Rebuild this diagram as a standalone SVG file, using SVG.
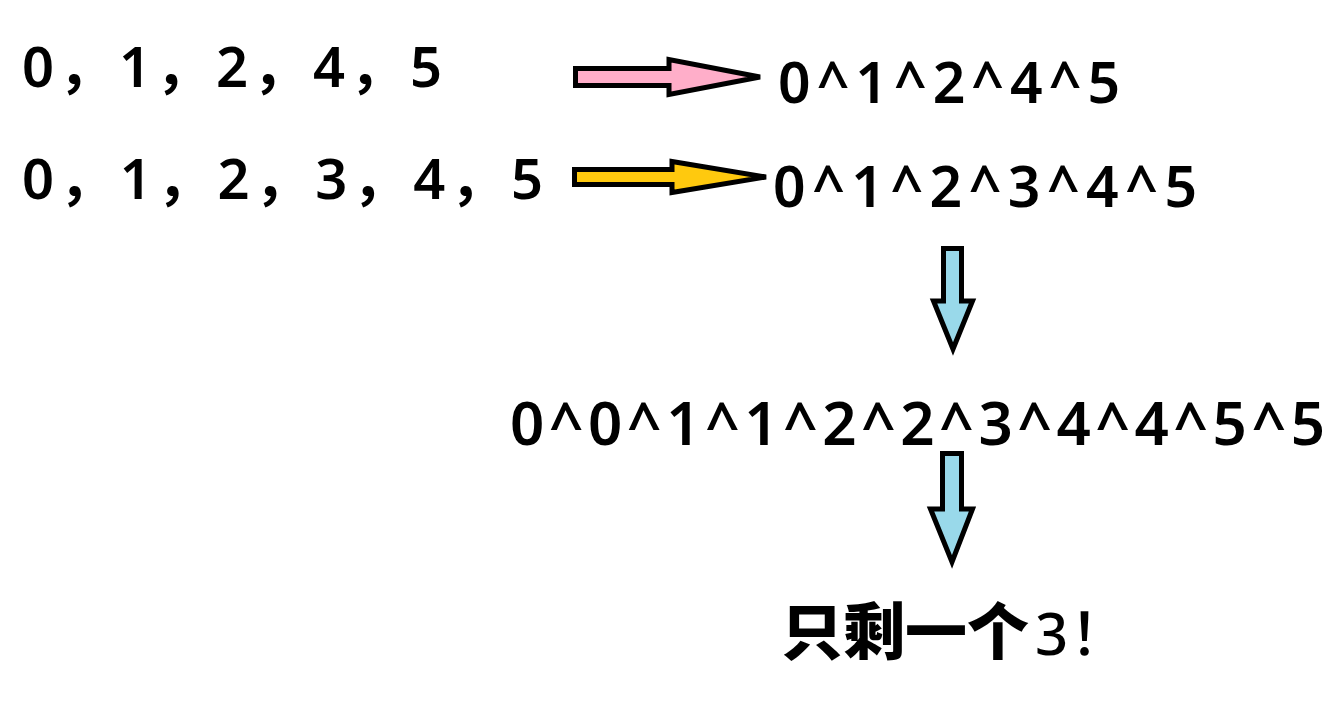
<svg xmlns="http://www.w3.org/2000/svg" width="1332" height="706" viewBox="0 0 1332 706">
<style>
.t{font-family:"Noto Sans","Noto Sans CJK SC",sans-serif;fill:#000;font-weight:600;}
.a{stroke:#000;stroke-width:5;stroke-linejoin:miter;}
</style>
<rect width="1332" height="706" fill="#fff"/>
<g id="seq1"><text class="t" x="22" y="87" font-size="56" textLength="420" lengthAdjust="spacing">0，1，2，4，5</text></g>
<g id="seq2"><text class="t" x="22" y="199" font-size="56" textLength="521" lengthAdjust="spacing">0，1，2，3，4，5</text></g>
<g id="xor1"><text class="t" x="778" y="103" font-size="57" font-weight="500" textLength="342" lengthAdjust="spacing">0^1^2^4^5</text></g>
<g id="xor2"><text class="t" x="773" y="207" font-size="57" font-weight="500" textLength="424" lengthAdjust="spacing">0^1^2^3^4^5</text></g>
<g id="xor3"><text class="t" x="510" y="445" font-size="60" font-weight="500" textLength="815" lengthAdjust="spacing">0^0^1^1^2^2^3^4^4^5^5</text></g>
<g id="result"><text class="t" y="655" font-size="62"><tspan x="781" font-weight="900">只剩一个</tspan><tspan x="1035" font-weight="500" font-size="58">3</tspan><tspan x="1070" font-weight="500" font-size="58">！</tspan></text></g>
<g id="connectors">
<path class="a" fill="#FFAEC9" d="M575.5,68.5 H669 V59.5 L760,77 L669,94.5 V85.5 H575.5 Z"/>
<path class="a" fill="#FFC90E" d="M574.5,169.5 H672 V161.5 L766,177 L672,192.5 V184.5 H574.5 Z"/>
<path class="a" fill="#99D9EA" d="M943.5,248.5 H961.5 V301 H972.5 L953,349 L933.5,301 H943.5 Z"/>
<path class="a" fill="#99D9EA" d="M942.5,453.5 H961.5 V509 H972.5 L952,562 L930.5,509 H942.5 Z"/>
</g>
</svg>
